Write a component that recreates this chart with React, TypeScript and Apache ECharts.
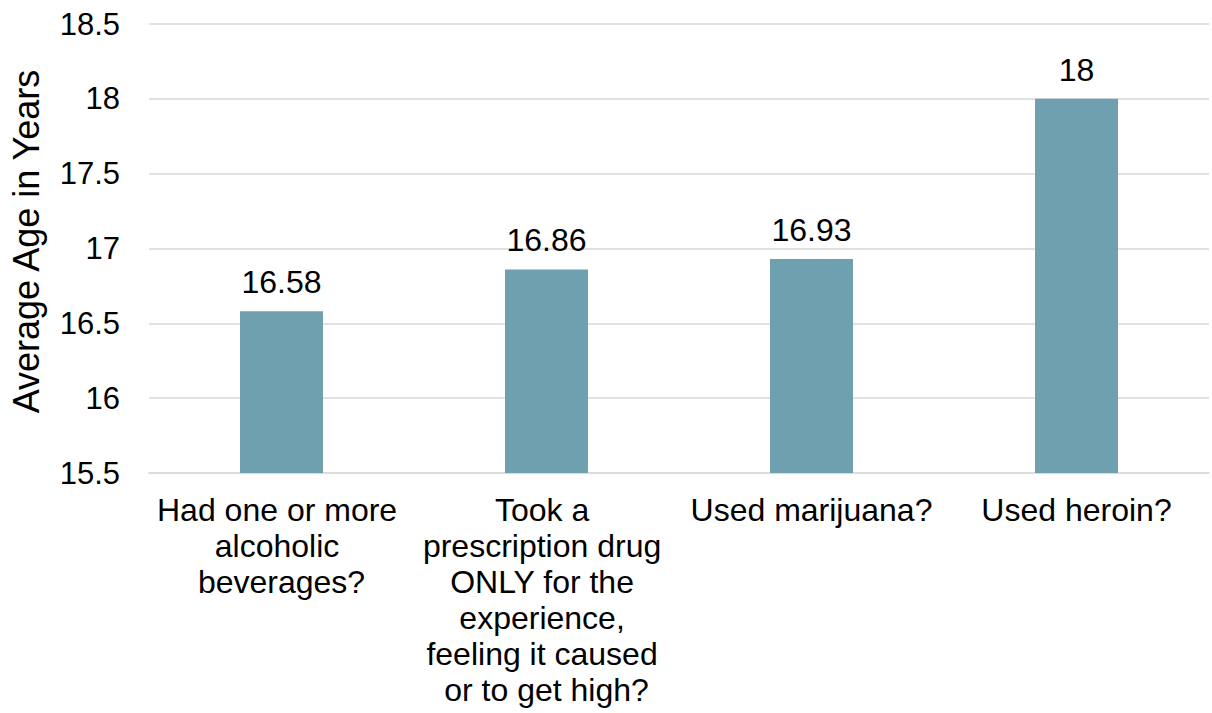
import React, { useEffect, useRef } from "react";
import * as echarts from "echarts";

// Survey questions on the category axis and the average age of first use for each
const categories: string[] = [
  "Had one or more alcoholic beverages?",
  "Took a prescription drug ONLY for the experience, feeling it caused or to get high?",
  "Used marijuana?",
  "Used heroin?",
];
const averageAge: number[] = [16.58, 16.86, 16.93, 18];

const yMin = 15.5;
const yMax = 18.5;
const yStep = 0.5;

const FONT = "'Liberation Sans', Arial, sans-serif";
const BAR_COLOR = "#6fa0b0";
const GRID_COLOR = "#d9d9d9";
const TEXT_COLOR = "#000000";

export default function App() {
  const ref = useRef<HTMLDivElement>(null);

  useEffect(() => {
    if (!ref.current) return;
    const chart = echarts.init(ref.current, undefined, { renderer: "svg" });
    chart.setOption({
      animation: false,
      textStyle: { fontFamily: FONT },
      grid: { left: 147, right: 3, top: 24, bottom: 240, containLabel: false },
      xAxis: {
        type: "category",
        data: categories,
        axisLine: { show: true, lineStyle: { color: GRID_COLOR, width: 1.5 } },
        axisTick: { show: false },
        axisLabel: {
          interval: 0,
          margin: 19,
          color: TEXT_COLOR,
          fontFamily: FONT,
          fontSize: 32,
          lineHeight: 36,
          width: 250,
          overflow: "break",
        },
      },
      yAxis: {
        type: "value",
        min: yMin,
        max: yMax,
        interval: yStep,
        name: "Average Age in Years",
        nameLocation: "middle",
        nameGap: 105,
        nameRotate: 90,
        nameTextStyle: {
          color: TEXT_COLOR,
          fontFamily: FONT,
          fontSize: 36,
          padding: [0, 0, 0, 14],
        },
        axisLine: { show: false },
        axisTick: { show: false },
        axisLabel: {
          margin: 29,
          color: TEXT_COLOR,
          fontFamily: FONT,
          fontSize: 31,
          formatter: (v: number) => String(v),
        },
        splitLine: { show: true, lineStyle: { color: GRID_COLOR, width: 1.5 } },
      },
      series: [
        {
          type: "bar",
          data: averageAge,
          barWidth: 83,
          itemStyle: { color: BAR_COLOR },
          label: {
            show: true,
            position: "top",
            distance: 13,
            color: TEXT_COLOR,
            fontFamily: FONT,
            fontSize: 32,
            formatter: (p: any) => String(p.value),
          },
        },
      ],
    });
    return () => chart.dispose();
  }, []);

  return (
    <div
      ref={ref}
      style={{ position: "absolute", left: 0, top: 0, width: 1212, height: 713, background: "#fff" }}
    />
  );
}
